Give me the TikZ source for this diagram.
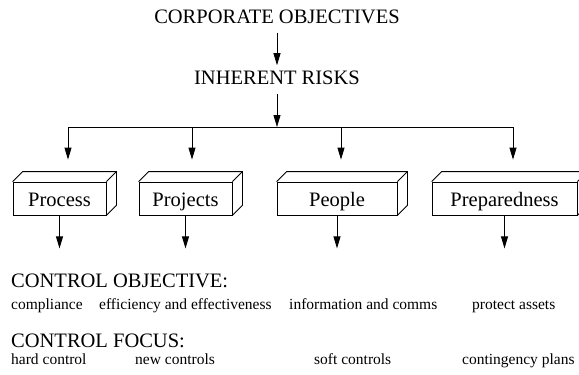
\documentclass[tikz,border=0pt]{standalone}
\usepackage{fontspec}
\setmainfont{Liberation Serif}
\usetikzlibrary{arrows.meta,calc}
\tikzset{
  hd/.style={font=\fontsize{20.5pt}{24pt}\selectfont, inner sep=0pt, anchor=base},
  sm/.style={font=\fontsize{15.5pt}{18pt}\selectfont, inner sep=0pt, anchor=base west},
  arr/.style={-{Triangle[length=12pt,width=7pt]}, line width=0.8pt},
  box/.style={draw, line width=0.8pt, minimum height=33pt, inner sep=0pt,
    text height=19pt, text depth=4pt, font=\fontsize{20.5pt}{24pt}\selectfont},
}
\newcommand{\depthfaces}[1]{%
  \draw[line width=0.8pt] (#1.north west) -- ++(10,-10) -| ($(#1.south east)+(10,-10)$) -- (#1.south east);
  \draw[line width=0.8pt] (#1.north east) -- ++(10,-10);
}
\begin{document}
\begin{tikzpicture}[x=1pt,y=-1pt]
\useasboundingbox (0,0) rectangle (579,375);
% top
\node[hd] (co) at (277,23) {CORPORATE OBJECTIVES};
\node[hd] (ir) at (277,84) {INHERENT RISKS};
\draw[arr, shorten <=9pt, shorten >=5pt] (co.south) -- (ir.north);
% bus
\coordinate (b1) at (68,127);
\coordinate (b2) at (192,127);
\coordinate (b3) at (341,127);
\coordinate (b4) at (513,127);
\draw[line width=0.8pt] (b1) -- (b4);
\draw[arr, shorten <=10pt] (ir.south) -- (ir.south |- b1);
% boxes
\node[box, minimum width=93pt] (p1) at (59.5,198.5) {Process};
\node[box, minimum width=93pt] (p2) at (185.5,198.5) {Projects};
\node[box, minimum width=120pt] (p3) at (337,198.5) {People};
\node[box, minimum width=145pt] (p4) at (504.5,198.5) {Preparedness};
\depthfaces{p1}
\depthfaces{p2}
\depthfaces{p3}
\depthfaces{p4}
\draw[arr, shorten >=22pt] (b1) -- (b1 |- p1.north);
\draw[arr, shorten >=22pt] (b2) -- (b2 |- p2.north);
\draw[arr, shorten >=22pt] (b3) -- (b3 |- p3.north);
\draw[arr, shorten >=22pt] (b4) -- (b4 |- p4.north);
\coordinate (e1) at ($(p1.south)+(0,33)$);
\coordinate (e2) at ($(p2.south)+(0,33)$);
\coordinate (e3) at ($(p3.south)+(0,33)$);
\coordinate (e4) at ($(p4.south)+(0,33)$);
\draw[arr] (p1.south) -- (e1);
\draw[arr] (p2.south) -- (e2);
\draw[arr] (p3.south) -- (e3);
\draw[arr] (p4.south) -- (e4);
% bottom texts
\node[hd, anchor=base west] (cobj) at (11,287) {CONTROL OBJECTIVE:};
\node[sm] (t1) at (11,309) {compliance};
\node[sm] (t2) at (99,309) {efficiency and effectiveness};
\node[sm] (t3) at (289,309) {information and comms};
\node[sm] (t4) at (472,309) {protect assets};
\node[hd, anchor=base west] (cfoc) at (11,347) {CONTROL FOCUS:};
\node[sm] (f1) at (11,364) {hard control};
\node[sm] (f2) at (135,364) {new controls};
\node[sm] (f3) at (314,364) {soft controls};
\node[sm] (f4) at (462,364) {contingency plans};
\end{tikzpicture}
\end{document}
